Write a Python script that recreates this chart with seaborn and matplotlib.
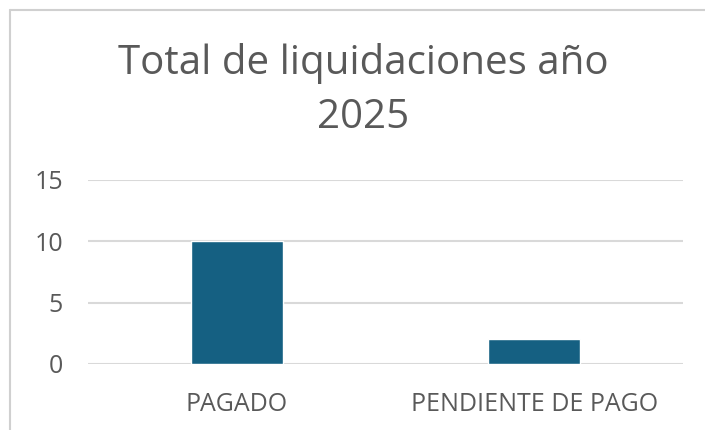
import pandas as pd
import seaborn as sns
from matplotlib import pyplot as plt
from matplotlib.lines import Line2D

categorias = ['PAGADO', 'PENDIENTE DE PAGO']
valores = [10, 2]
ticks_y = [0, 5, 10, 15]

df = pd.DataFrame({'estado': categorias, 'total': valores})

sns.set_style('white')
plt.rcParams['font.family'] = ['Open Sans', 'DejaVu Sans']

fig = plt.figure(figsize=(7.05, 4.30), dpi=100)
ax = fig.add_axes([0.1248, 0.1535, 0.844, 0.4279])

sns.barplot(data=df, x='estado', y='total', color='#156082', width=0.31,
            saturation=1, ax=ax)

ax.set_ylim(0, 15)
ax.set_yticks(ticks_y)
ax.set_xlim(-0.5, 1.5)
ax.yaxis.grid(True, color='#d9d9d9', linewidth=1.5)
ax.set_axisbelow(True)
for s in ax.spines.values():
    s.set_visible(False)
ax.tick_params(axis='both', length=0, labelsize=18, colors='#595959')
ax.tick_params(axis='y', pad=18)
ax.tick_params(axis='x', pad=20)
ax.set_xlabel('')
ax.set_ylabel('')

fig.text(0.515, 0.79, 'Total de liquidaciones año\n2025', ha='center', va='center',
         fontsize=29, color='#595959', linespacing=1.44)

# marco del gráfico
fig.add_artist(Line2D([10 / 705, 1], [1 - 10 / 430] * 2, color='#d0d0d0', lw=1.5))
fig.add_artist(Line2D([10 / 705] * 2, [0, 1 - 10 / 430], color='#d0d0d0', lw=1.5))

fig.savefig('out.png', dpi=100)
